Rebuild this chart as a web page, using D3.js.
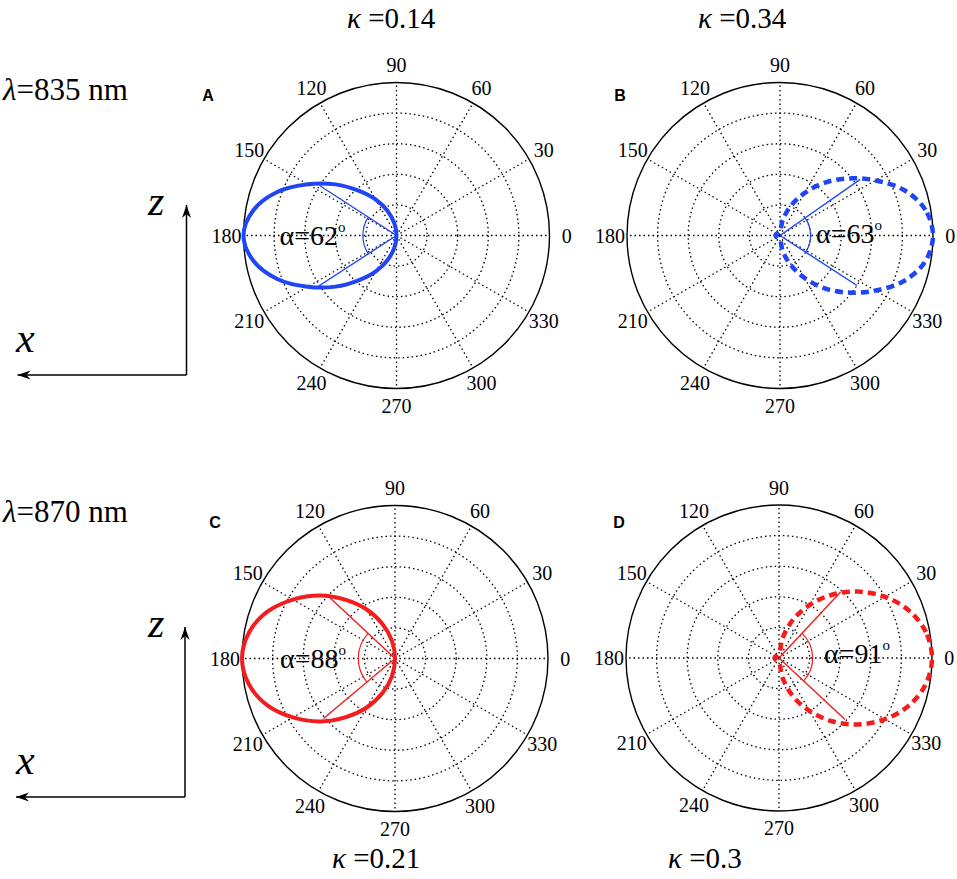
<!DOCTYPE html>
<html>
<head>
<meta charset="utf-8">
<script src="https://cdn.jsdelivr.net/npm/d3@7"></script>
<style>
  body { margin: 0; background: #fff; }
  text { font-family: "Liberation Serif", "Times New Roman", serif; fill: #000; }
</style>
</head>
<body>
<div id="chart"></div>
<script>
// panel labels
const panelIds = ["A", "B", "C", "D"];
const kappaLabels = ["0.14", "0.34", "0.21", "0.3"];
const alphaValues = [62, 63, 88, 91];
const lambdaLabels = ["835 nm", "870 nm"];

// polar grid
const angleTicks = [0, 30, 60, 90, 120, 150, 180, 210, 240, 270, 300, 330];
const ringLevels = [0.2, 0.4, 0.6, 0.8];

// emission patterns, angle in degrees and normalised radius
const anglesA = [90, 100, 110, 120, 130, 140, 150, 160, 170, 180, 190, 200, 210, 220, 230, 240, 250, 260];
const radiiA  = [0, 0.08, 0.17, 0.27, 0.38, 0.52, 0.67, 0.83, 0.95, 1.0, 0.95, 0.83, 0.67, 0.52, 0.38, 0.27, 0.17, 0.08];

const anglesB = [0, 10, 20, 30, 40, 50, 60, 70, 80, 90, 180, 270, 280, 290, 300, 310, 320, 330, 340, 350];
const radiiB  = [1.0, 0.965, 0.865, 0.72, 0.58, 0.45, 0.32, 0.205, 0.105, 0.03, 0.03, 0.03, 0.105, 0.205, 0.32, 0.45, 0.58, 0.72, 0.865, 0.965];

const anglesC = [90, 100, 110, 120, 130, 140, 150, 160, 170, 180, 190, 200, 210, 220, 230, 240, 250, 260];
const radiiC  = [0, 0.12, 0.24, 0.37, 0.50, 0.64, 0.77, 0.89, 0.97, 1.0, 0.97, 0.89, 0.77, 0.64, 0.50, 0.37, 0.24, 0.12];

const anglesD = [0, 10, 20, 30, 40, 50, 60, 70, 80, 90, 180, 270, 280, 290, 300, 310, 320, 330, 340, 350];
const radiiD  = [1.0, 0.975, 0.905, 0.80, 0.675, 0.54, 0.40, 0.265, 0.13, 0.03, 0.03, 0.03, 0.13, 0.265, 0.40, 0.54, 0.675, 0.80, 0.905, 0.975];

// alpha marker lines: angles (deg), radii, and the small arc radius
const alphaLineAngles = [[147, 213], [35, -33], [137, 220], [47, -43]];
const alphaLineRadii  = [[0.60, 0.60], [0.64, 0.60], [0.61, 0.61], [0.59, 0.59]];
const alphaArcRadius  = [0.22, 0.20, 0.24, 0.22];

const curveAngles = [anglesA, anglesB, anglesC, anglesD];
const curveRadii  = [radiiA, radiiB, radiiC, radiiD];

// layout
const width = 957, height = 879;
const R = 153;
const blue = "#1f45f5", red = "#f41c1c";

const panels = [
  {cx: 396.5, cy: 235.5, color: blue, dashed: false, letter: [208, 95],  kappa: [347, 28],  alpha: [-117, 9]},
  {cx: 780,   cy: 235.5, color: blue, dashed: true,  letter: [620, 95],  kappa: [698, 28],  alpha: [36, 7]},
  {cx: 395,   cy: 658.5, color: red,  dashed: false, letter: [215, 522], kappa: [332, 868], alpha: [-115, 9]},
  {cx: 779,   cy: 658,   color: red,  dashed: true,  letter: [619, 522], kappa: [668, 868], alpha: [45, 5]}
];

const rScale = d3.scaleLinear().domain([0, 1]).range([0, R]);
const rad = deg => deg * Math.PI / 180;

var svg = d3.select("#chart")
    .append("svg")
    .attr("width", width)
    .attr("height", height);

// arrow head for the x/z axes
svg.append("defs").append("marker")
    .attr("id", "arrow")
    .attr("viewBox", "-14 -6 15 12")
    .attr("refX", 0)
    .attr("refY", 0)
    .attr("markerWidth", 15)
    .attr("markerHeight", 12)
    .attr("markerUnits", "userSpaceOnUse")
    .attr("orient", "auto")
    .append("path")
    .attr("d", "M0,0 L-13,-4.5 L-9,0 L-13,4.5 Z")
    .attr("fill", "#000");

panels.forEach(function(p, i) {
    var g = svg.append("g")
        .attr("transform", "translate(" + p.cx + "," + p.cy + ")");

    // dotted rings
    g.selectAll(".ring")
        .data(ringLevels)
        .enter()
        .append("circle")
        .attr("r", d => rScale(d))
        .attr("fill", "none")
        .attr("stroke", "#000")
        .attr("stroke-width", 1.3)
        .attr("stroke-dasharray", "1.5,3");

    // dotted spokes
    g.selectAll(".spoke")
        .data(angleTicks)
        .enter()
        .append("line")
        .attr("x1", 0).attr("y1", 0)
        .attr("x2", d => rScale(1) * Math.cos(rad(d)))
        .attr("y2", d => -rScale(1) * Math.sin(rad(d)))
        .attr("stroke", "#000")
        .attr("stroke-width", 1.3)
        .attr("stroke-dasharray", "1.5,3");

    // outer circle
    g.append("circle")
        .attr("r", rScale(1))
        .attr("fill", "none")
        .attr("stroke", "#000")
        .attr("stroke-width", 1.4);

    // angle labels
    g.selectAll(".tick")
        .data(angleTicks)
        .enter()
        .append("text")
        .attr("x", d => rScale(1.112) * Math.cos(rad(d)))
        .attr("y", d => -rScale(1.112) * Math.sin(rad(d)))
        .attr("text-anchor", "middle")
        .attr("dominant-baseline", "central")
        .style("font-size", "20px")
        .text(d => d);

    // emission pattern
    var pts = curveAngles[i].map((a, k) => ({a: a, r: curveRadii[i][k]}));
    var line = d3.lineRadial()
        .angle(d => rad(90 - d.a))
        .radius(d => rScale(d.r))
        .curve(d3.curveCatmullRomClosed.alpha(0.5));
    g.append("path")
        .datum(pts)
        .attr("d", line)
        .attr("fill", "none")
        .attr("stroke", p.color)
        .attr("stroke-width", p.dashed ? 4.5 : 4)
        .attr("stroke-dasharray", p.dashed ? "8,5" : null);

    // alpha lines
    alphaLineAngles[i].forEach(function(a, k) {
        g.append("line")
            .attr("x1", 0).attr("y1", 0)
            .attr("x2", rScale(alphaLineRadii[i][k]) * Math.cos(rad(a)))
            .attr("y2", -rScale(alphaLineRadii[i][k]) * Math.sin(rad(a)))
            .attr("stroke", p.color)
            .attr("stroke-width", 1.4);
    });

    // alpha arc
    var a0 = alphaLineAngles[i][0], a1 = alphaLineAngles[i][1];
    var arc = d3.path();
    arc.arc(0, 0, rScale(alphaArcRadius[i]), rad(-a0), rad(-a1), a1 > a0);
    g.append("path")
        .attr("d", arc.toString())
        .attr("fill", "none")
        .attr("stroke", p.color)
        .attr("stroke-width", 1.2);

    // alpha label
    var t = g.append("text")
        .attr("x", p.alpha[0])
        .attr("y", p.alpha[1])
        .style("font-size", "28px");
    t.append("tspan").text("α=" + alphaValues[i]);
    t.append("tspan")
        .attr("dy", -13)
        .style("font-size", "15px")
        .text("o");

    // panel letter
    svg.append("text")
        .attr("x", p.letter[0])
        .attr("y", p.letter[1])
        .attr("text-anchor", "middle")
        .attr("dominant-baseline", "central")
        .style("font-family", "'Liberation Sans', Arial, sans-serif")
        .style("font-weight", "bold")
        .style("font-size", "16px")
        .text(panelIds[i]);

    // kappa label
    var k = svg.append("text")
        .attr("x", p.kappa[0])
        .attr("y", p.kappa[1])
        .style("font-size", "29px");
    k.append("tspan").style("font-style", "italic").text("κ");
    k.append("tspan").text(" =" + kappaLabels[i]);
});

// wavelength labels and x/z axes per row
const rowBase = [0, 422];
rowBase.forEach(function(dy, j) {
    var l = svg.append("text")
        .attr("x", 3)
        .attr("y", 100 + dy)
        .style("font-size", "31px");
    l.append("tspan").style("font-style", "italic").text("λ");
    l.append("tspan").text("=" + lambdaLabels[j]);

    var ox = 186.5 - j * 1.5, oy = 375 + dy;
    svg.append("line")
        .attr("x1", ox).attr("y1", oy)
        .attr("x2", ox).attr("y2", oy - 170)
        .attr("stroke", "#000")
        .attr("stroke-width", 1.5)
        .attr("marker-end", "url(#arrow)");
    svg.append("line")
        .attr("x1", ox).attr("y1", oy)
        .attr("x2", ox - 169).attr("y2", oy)
        .attr("stroke", "#000")
        .attr("stroke-width", 1.5)
        .attr("marker-end", "url(#arrow)");

    svg.append("text")
        .attr("x", 148)
        .attr("y", 215 + dy)
        .style("font-size", "42px")
        .style("font-style", "italic")
        .text("z");
    svg.append("text")
        .attr("x", 16)
        .attr("y", 352 + dy)
        .style("font-size", "42px")
        .style("font-style", "italic")
        .text("x");
});
</script>
</body>
</html>
